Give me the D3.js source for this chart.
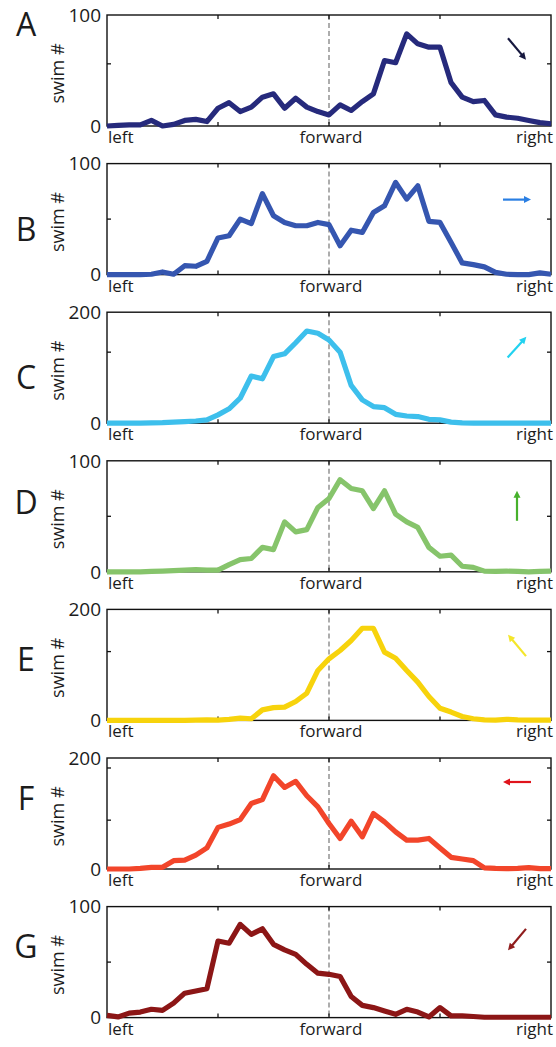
<!DOCTYPE html>
<html>
<head>
<meta charset="utf-8">
<script src="https://cdn.jsdelivr.net/npm/d3@7"></script>
<style>
  body { margin: 0; background: #fff; }
  text { font-family: "Open Sans", "DejaVu Sans", sans-serif; fill: #1c1c1c; }
</style>
</head>
<body>
<div id="chart"></div>
<script>
// panel letters, colours, y range and inner y tick marks
const letters = ["A", "B", "C", "D", "E", "F", "G"];
const lineColors = ["#262a7c", "#3556b0", "#3dbfec", "#86c46b", "#f7d30c", "#f2452a", "#8c1616"];
const arrowColors = ["#16183f", "#2a7fe3", "#22d2f0", "#47b12c", "#f4e62b", "#e0141c", "#901d1d"];
const arrowDeg = [-50, 0, 48, 90, 130, 180, -130];
const yMax = [100, 100, 200, 100, 200, 200, 100];
const yMidTicks = [[56], [50], [128], [50], [124], [88, 182], [50]];
const xLabels = ["left", "forward", "right"];

// swim counts, 41 bins from left to right
const seriesA = [0, 0.5, 1, 1, 5, 0, 1.5, 5, 6, 4, 16, 21, 13, 17, 26, 29, 16, 25, 17, 13, 10, 19, 14, 22, 29, 59, 57, 83, 74, 71, 71, 39, 26, 22, 23, 10, 8, 7, 5, 3, 2];
const seriesB = [0, 0, 0, 0, 0.3, 2.4, 0.3, 8, 7.5, 12, 33, 35, 50, 46, 73, 53, 47, 44, 44, 47, 45, 26, 40, 38, 56, 62, 83, 68, 80, 48, 47, 29, 10.5, 9, 7, 2, 0.3, 0, 0, 1.5, 0.3];
const seriesC = [0, 0, 0, 0.3, 0.5, 1, 2, 3, 4, 6, 15, 26, 45, 85, 80, 120, 125, 145, 166, 162, 150, 128, 68, 42, 30, 28, 16, 13, 12, 7, 6, 2, 0.5, 0.3, 0, 0, 0, 0, 0, 0, 0];
const seriesD = [0, 0, 0, 0, 0.3, 0.6, 1, 1.5, 2, 1.5, 1.5, 6.5, 11, 12, 22, 20, 45, 36, 38, 58, 66, 83, 75, 73, 57, 73, 52, 45, 40, 22, 14, 15, 5, 4, 0.6, 0.3, 0.6, 0.3, 0, 0.3, 0.6];
const seriesE = [0, 0, 0, 0, 0, 0, 0, 0, 0.5, 1, 0.5, 2, 4, 3, 19, 23, 24, 34, 49, 90, 111, 126, 144, 166, 166, 123, 112, 90, 69, 43, 22, 15, 7, 3, 1, 0.5, 2, 1, 0.5, 0.5, 0.5];
const seriesF = [0, 0, 0, 1, 3, 3, 15, 16, 25, 38, 75, 81, 89, 118, 125, 168, 147, 158, 132, 112, 82, 55, 86, 58, 100, 85, 67, 52, 52, 55, 38, 21, 18, 15, 2, 1, 0.6, 1, 2.4, 0.6, 0.6];
const seriesG = [2, 0.6, 4, 5, 7.5, 6.5, 13, 22, 24, 26, 69, 67, 84, 75, 80, 66, 61, 57, 48, 40, 39, 37, 19, 11, 9, 6, 3, 7.5, 5, 0.6, 9, 1.5, 1.5, 1, 0.3, 0.3, 0.3, 0.3, 0.3, 0.3, 0.3];
const series = [seriesA, seriesB, seriesC, seriesD, seriesE, seriesF, seriesG];

const width = 556, height = 1047;
const left = 107, right = 551, top0 = 15, pitch = 148.6, ph = 111;
const letterDy = [21, 77, 77, 53, 62, 52, 51];
const arrowDy = [34, 36, 35, 45, 36, 24, 33];

const svg = d3.select("#chart")
  .append("svg")
  .attr("width", width)
  .attr("height", height);

const x = d3.scaleLinear().domain([0, 40]).range([left, right]);

series.forEach((vals, i) => {
  const top = top0 + i * pitch;
  const y = d3.scaleLinear().domain([0, yMax[i]]).range([top + ph, top]);
  const g = svg.append("g");

  // dashed "forward" line
  g.append("line")
    .attr("x1", x(20)).attr("x2", x(20))
    .attr("y1", top).attr("y2", top + ph)
    .attr("stroke", "#777")
    .attr("stroke-width", 1.2)
    .attr("stroke-dasharray", "5,3");

  // inner ticks: bottom and top
  [10, 20, 30].forEach(t => {
    g.append("line").attr("x1", x(t)).attr("x2", x(t))
      .attr("y1", top + ph).attr("y2", top + ph - 4)
      .attr("stroke", "#111").attr("stroke-width", 1.3);
    g.append("line").attr("x1", x(t)).attr("x2", x(t))
      .attr("y1", top).attr("y2", top + 4)
      .attr("stroke", "#111").attr("stroke-width", 1.3);
  });
  yMidTicks[i].forEach(t => {
    g.append("line").attr("x1", left).attr("x2", left + 4)
      .attr("y1", y(t)).attr("y2", y(t))
      .attr("stroke", "#111").attr("stroke-width", 1.3);
    g.append("line").attr("x1", right).attr("x2", right - 4)
      .attr("y1", y(t)).attr("y2", y(t))
      .attr("stroke", "#111").attr("stroke-width", 1.3);
  });

  g.append("rect")
    .attr("x", left).attr("y", top)
    .attr("width", right - left).attr("height", ph)
    .attr("fill", "none")
    .attr("stroke", "#111")
    .attr("stroke-width", 1.4);

  const line = d3.line()
    .x((d, j) => x(j))
    .y(d => y(d));

  g.append("path")
    .datum(vals)
    .attr("fill", "none")
    .attr("stroke", lineColors[i])
    .attr("stroke-width", 5.2)
    .attr("stroke-linejoin", "round")
    .attr("d", line);

  // y labels
  g.append("text")
    .attr("x", left - 6).attr("y", y(yMax[i]))
    .attr("dy", "0.36em")
    .attr("text-anchor", "end")
    .style("font-size", "19px")
    .text(yMax[i]);
  g.append("text")
    .attr("x", left - 6).attr("y", y(0))
    .attr("dy", "0.36em")
    .attr("text-anchor", "end")
    .style("font-size", "19px")
    .text("0");

  g.append("text")
    .attr("transform", `translate(64,${top + ph / 2 + 3}) rotate(-90)`)
    .attr("text-anchor", "middle")
    .style("font-size", "18px")
    .text("swim #");

  // x labels
  g.append("text").attr("x", left + 1).attr("y", top + ph + 17)
    .attr("text-anchor", "start").style("font-size", "17px").text(xLabels[0]);
  g.append("text").attr("x", x(20) + 2).attr("y", top + ph + 17)
    .attr("text-anchor", "middle").style("font-size", "17px").text(xLabels[1]);
  g.append("text").attr("x", right + 2).attr("y", top + ph + 17)
    .attr("text-anchor", "end").style("font-size", "17px").text(xLabels[2]);

  // panel letter
  g.append("text")
    .attr("x", 26).attr("y", top + letterDy[i])
    .attr("text-anchor", "middle")
    .style("font-size", "32px")
    .text(letters[i]);

  // direction arrow
  const a = arrowDeg[i] * Math.PI / 180;
  const len = i === 3 ? 30 : 28;
  const cx = 517, cy = top + arrowDy[i];
  const dx = Math.cos(a), dy = -Math.sin(a);
  const x1 = cx - dx * len / 2, y1 = cy - dy * len / 2;
  const x2 = cx + dx * len / 2, y2 = cy + dy * len / 2;
  const hl = 7, hw = 3.5;
  const bx = x2 - dx * hl, by = y2 - dy * hl;
  g.append("line")
    .attr("x1", x1).attr("y1", y1)
    .attr("x2", bx + dx * 1).attr("y2", by + dy * 1)
    .attr("stroke", arrowColors[i])
    .attr("stroke-width", 2.2);
  g.append("path")
    .attr("d", `M${x2},${y2}L${bx - dy * hw},${by + dx * hw}L${bx + dy * hw},${by - dx * hw}Z`)
    .attr("fill", arrowColors[i]);
});
</script>
</body>
</html>
